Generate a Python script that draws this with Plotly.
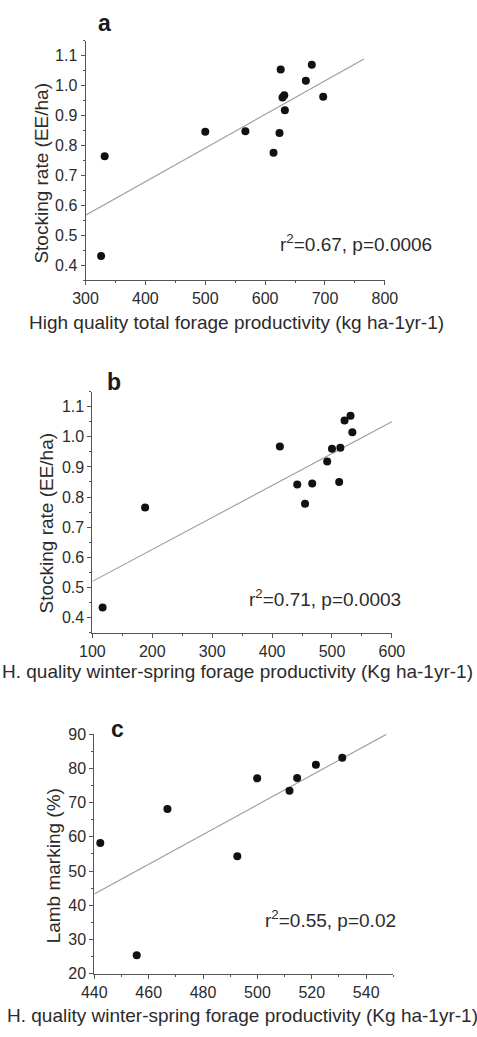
import plotly.graph_objects as go

# ---------------- data ----------------
# Panel a: high quality total forage productivity vs stocking rate
a_x = [326, 332, 500, 567, 614, 624, 626, 629, 632, 633, 668, 678, 697]
a_y = [0.431, 0.764, 0.846, 0.848, 0.776, 0.842, 1.054, 0.960, 0.968, 0.918, 1.016, 1.070, 0.963]
a_fit_x = [300, 765]
a_fit_y = [0.567, 1.089]
a_stat = "r<sup>2</sup>=0.67, p=0.0006"

# Panel b: winter-spring forage productivity vs stocking rate
b_x = [117, 188, 413, 442, 455, 467, 492, 500, 512, 514, 521, 531, 534]
b_y = [0.433, 0.765, 0.968, 0.842, 0.778, 0.845, 0.918, 0.960, 0.850, 0.964, 1.054, 1.070, 1.015]
b_fit_x = [100, 601]
b_fit_y = [0.520, 1.051]
b_stat = "r<sup>2</sup>=0.71, p=0.0003"

# Panel c: winter-spring forage productivity vs lamb marking
c_x = [442.2, 455.6, 466.9, 492.6, 499.9, 511.8, 514.6, 521.5, 531.2]
c_y = [58.2, 25.4, 68.1, 54.3, 77.1, 73.5, 77.2, 81.1, 83.1]
c_fit_x = [440, 547.5]
c_fit_y = [43.3, 90.0]
c_stat = "r<sup>2</sup>=0.55, p=0.02"

panel_labels = ["a", "b", "c"]
y_titles = ["Stocking rate (EE/ha)", "Stocking rate (EE/ha)", "Lamb marking (%)"]
x_titles = [
    "High quality total forage productivity (kg ha-1yr-1)",
    "H. quality winter-spring forage productivity (Kg ha-1yr-1)",
    "H. quality winter-spring forage productivity (Kg ha-1yr-1)",
]

# ---------------- layout helpers ----------------
W, H = 477, 1037
FONT = "Liberation Sans, Arial, Helvetica, sans-serif"
TXT = "#2b2b2b"
AX = "#555555"


def px(x):
    return x / W


def py(y):
    return 1 - y / H


fig = go.Figure()

panels = [
    dict(x=a_x, y=a_y, fx=a_fit_x, fy=a_fit_y, stat=a_stat,
         xd=[76.7, 393.3], yd=[33.3, 276.7], xr=[300, 800], yr=[0.35, 1.15],
         xdt=100, xmdt=50, x0=300, ydt=0.1, ymdt=0.05, y0=0.4, yfmt=".1f",
         stat_pos=(445, 239), lab_pos=(97, 15), yt_pos=(30, 168), xt_pos=(236, 320)),
    dict(x=b_x, y=b_y, fx=b_fit_x, fy=b_fit_y, stat=b_stat,
         xd=[84.0, 400.7], yd=[390.0, 635.0], xr=[100, 600], yr=[0.35, 1.15],
         xdt=100, xmdt=50, x0=100, ydt=0.1, ymdt=0.05, y0=0.4, yfmt=".1f",
         stat_pos=(413, 600), lab_pos=(107, 380), yt_pos=(35, 524), xt_pos=(237, 675)),
    dict(x=c_x, y=c_y, fx=c_fit_x, fy=c_fit_y, stat=c_stat,
         xd=[86.0, 402.3], yd=[738.3, 981.7], xr=[440, 550], yr=[20, 90],
         xdt=20, xmdt=10, x0=440, ydt=10, ymdt=5, y0=20, yfmt="d",
         stat_pos=(407, 926), lab_pos=(110, 733), yt_pos=(43, 872), xt_pos=(243, 1024)),
]

annotations = []
for i, p in enumerate(panels):
    n = "" if i == 0 else str(i + 1)
    xa, ya = "x" + n, "y" + n
    fig.add_trace(go.Scatter(
        x=p["fx"], y=p["fy"], mode="lines", xaxis=xa, yaxis=ya,
        line=dict(color="#9a9a9a", width=1.1), showlegend=False, hoverinfo="skip"))
    fig.add_trace(go.Scatter(
        x=p["x"], y=p["y"], mode="markers", xaxis=xa, yaxis=ya,
        marker=dict(color="#111111", size=8, line=dict(width=0)), showlegend=False))

    axis_common = dict(
        showline=True, linecolor=AX, linewidth=1, mirror=False, showgrid=False,
        zeroline=False, ticks="outside", ticklen=4, tickwidth=1, tickcolor=AX,
        tickfont=dict(family=FONT, size=16, color=TXT),
    )
    fig.layout["xaxis" + n] = dict(
        axis_common, domain=[px(p["xd"][0]), px(p["xd"][1])], range=p["xr"],
        anchor=ya, tick0=p["x0"], dtick=p["xdt"],
        minor=dict(ticks="outside", ticklen=2, tickcolor=AX, dtick=p["xmdt"], tick0=p["x0"]),
    )
    fig.layout["yaxis" + n] = dict(
        axis_common, domain=[py(p["yd"][1]), py(p["yd"][0])], range=p["yr"],
        anchor=xa, tick0=p["y0"], dtick=p["ydt"], tickformat=p["yfmt"],
        minor=dict(ticks="outside", ticklen=2, tickcolor=AX, dtick=p["ymdt"], tick0=p["y0"]),
    )

    annotations.append(dict(
        text=p["stat"], x=px(p["stat_pos"][0]), y=py(p["stat_pos"][1]),
        xref="paper", yref="paper", xanchor="right", yanchor="middle",
        showarrow=False, font=dict(family=FONT, size=19, color=TXT)))
    annotations.append(dict(
        text="<b>" + panel_labels[i] + "</b>", x=px(p["lab_pos"][0]), y=py(p["lab_pos"][1]),
        xref="paper", yref="paper", xanchor="center", yanchor="middle",
        showarrow=False, font=dict(family=FONT, size=23, color="#1a1a1a")))
    annotations.append(dict(
        text=y_titles[i], x=px(p["yt_pos"][0]), y=py(p["yt_pos"][1]),
        xref="paper", yref="paper", xanchor="center", yanchor="middle", textangle=-90,
        showarrow=False, font=dict(family=FONT, size=19, color=TXT)))
    annotations.append(dict(
        text=x_titles[i], x=px(p["xt_pos"][0]), y=py(p["xt_pos"][1]),
        xref="paper", yref="paper", xanchor="center", yanchor="middle",
        showarrow=False, font=dict(family=FONT, size=19, color=TXT)))

fig.update_layout(
    width=W, height=H, margin=dict(l=0, r=0, t=0, b=0),
    paper_bgcolor="white", plot_bgcolor="white",
    annotations=annotations, showlegend=False,
)

fig.write_html("out.html", config={"displayModeBar": False})
